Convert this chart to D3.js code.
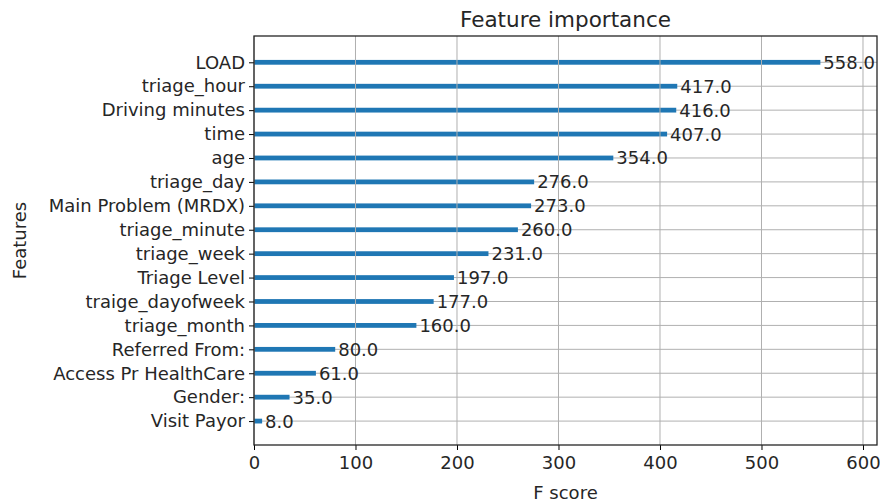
<!DOCTYPE html>
<html>
<head>
<meta charset="utf-8">
<script src="https://cdn.jsdelivr.net/npm/d3@7"></script>
<style>
  body { margin: 0; background: #fff; }
  svg text { font-family: "DejaVu Sans", sans-serif; fill: #262626; }
</style>
</head>
<body>
<div id="chart"></div>
<script>
/** Data, bottom to top as matplotlib draws it */
const features = [
  "Visit Payor", "Gender:", "Access Pr HealthCare", "Referred From:",
  "triage_month", "traige_dayofweek", "Triage Level", "triage_week",
  "triage_minute", "Main Problem (MRDX)", "triage_day", "age",
  "time", "Driving minutes ", "triage_hour", "LOAD"
];
const scores = [8, 35, 61, 80, 160, 177, 197, 231, 260, 273, 276, 354, 407, 416, 417, 558];
const xTicks = [0, 100, 200, 300, 400, 500, 600];

/** Layout */
const width = 880;
const height = 503;
const plot = { left: 254, right: 877, top: 36, bottom: 445 };
const barHeight = 0.2;
const fontSize = 18;

const svg = d3.select("#chart").append("svg")
  .attr("width", width)
  .attr("height", height);

/** Scales */
const xScale = d3.scaleLinear()
  .domain([0, d3.max(scores) * 1.1])
  .range([plot.left, plot.right]);

const yScale = d3.scaleLinear()
  .domain([-1.0, features.length - 1 + 1.1])
  .range([plot.bottom, plot.top]);

/** Horizontal grid sits under the bars */
const grid = svg.append("g").attr("stroke", "#b0b0b0").attr("stroke-width", 1);
grid.selectAll(".hgrid")
  .data(features)
  .join("line")
  .attr("class", "hgrid")
  .attr("x1", plot.left).attr("x2", plot.right)
  .attr("y1", (d, i) => yScale(i)).attr("y2", (d, i) => yScale(i));

/** Bars */
svg.append("g")
  .selectAll("rect")
  .data(scores)
  .join("rect")
  .attr("x", xScale(0))
  .attr("y", (d, i) => yScale(i + barHeight / 2))
  .attr("width", (d) => xScale(d) - xScale(0))
  .attr("height", yScale(0) - yScale(barHeight))
  .attr("fill", "#1f77b4");

/** Vertical grid on top */
svg.append("g").attr("stroke", "#b0b0b0").attr("stroke-width", 1)
  .selectAll("line")
  .data(xTicks)
  .join("line")
  .attr("x1", (d) => xScale(d)).attr("x2", (d) => xScale(d))
  .attr("y1", plot.top).attr("y2", plot.bottom);

/** Value labels */
svg.append("g")
  .selectAll("text")
  .data(scores)
  .join("text")
  .attr("x", (d) => xScale(d) + 3)
  .attr("y", (d, i) => yScale(i))
  .attr("dy", "0.36em")
  .attr("font-size", fontSize)
  .text((d) => d.toFixed(1));

/** Axes */
const styleTicks = (g) => g.selectAll("text")
  .attr("font-size", fontSize)
  .attr("font-family", "DejaVu Sans")
  .attr("fill", "#262626");

const xAxis = d3.axisBottom(xScale).tickValues(xTicks).tickSize(5).tickPadding(6)
  .tickFormat(d3.format("d"));
svg.append("g")
  .attr("transform", `translate(0,${plot.bottom})`)
  .call(xAxis)
  .call((g) => g.select(".domain").remove())
  .call(styleTicks);

const yAxis = d3.axisLeft(yScale)
  .tickValues(d3.range(features.length))
  .tickFormat((i) => features[i])
  .tickSize(5).tickPadding(4);
svg.append("g")
  .attr("transform", `translate(${plot.left},0)`)
  .call(yAxis)
  .call((g) => g.select(".domain").remove())
  .call(styleTicks);

/** Frame */
svg.append("rect")
  .attr("x", plot.left).attr("y", plot.top)
  .attr("width", plot.right - plot.left)
  .attr("height", plot.bottom - plot.top)
  .attr("fill", "none")
  .attr("stroke", "#262626")
  .attr("stroke-width", 1.3);

/** Titles */
svg.append("text")
  .attr("x", (plot.left + plot.right) / 2)
  .attr("y", 27)
  .attr("text-anchor", "middle")
  .attr("font-size", 21.5)
  .text("Feature importance");

svg.append("text")
  .attr("x", (plot.left + plot.right) / 2)
  .attr("y", 499)
  .attr("text-anchor", "middle")
  .attr("font-size", fontSize)
  .text("F score");

svg.append("text")
  .attr("transform", `translate(26,${(plot.top + plot.bottom) / 2}) rotate(-90)`)
  .attr("text-anchor", "middle")
  .attr("font-size", fontSize)
  .text("Features");
</script>
</body>
</html>
